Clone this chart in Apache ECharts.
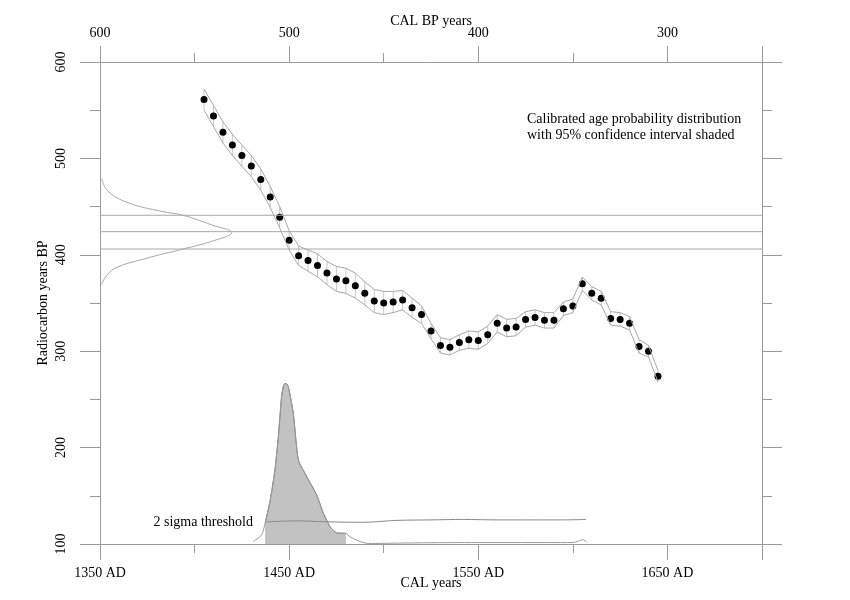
<!DOCTYPE html>
<html>
<head>
<meta charset="utf-8">
<script src="https://cdn.jsdelivr.net/npm/echarts@6/dist/echarts.min.js"></script>
<style>
  html, body { margin: 0; padding: 0; background: #fff; }
  #main { width: 850px; height: 600px; }
</style>
</head>
<body>
<div id="main"></div>
<script>
// calibration curve (every 5 years)
var calYears = [1405, 1410, 1415, 1420, 1425, 1430, 1435, 1440, 1445, 1450,
    1455, 1460, 1465, 1470, 1475, 1480, 1485, 1490, 1495, 1500,
    1505, 1510, 1515, 1520, 1525, 1530, 1535, 1540, 1545, 1550,
    1555, 1560, 1565, 1570, 1575, 1580, 1585, 1590, 1595, 1600,
    1605, 1610, 1615, 1620, 1625, 1630, 1635, 1640, 1645];
var c14Ages = [561, 544, 527, 514, 503, 492, 478, 460, 439, 415,
    399, 394, 389, 381, 375, 373, 368, 360, 352, 350,
    351, 353, 345, 338, 321, 306, 304, 309, 312, 311,
    317, 329, 324, 325, 333, 335, 332, 332, 344, 347,
    370, 360, 355, 334, 333, 329, 305, 300, 274];
var c14Errors = [11, 11, 11, 11, 11, 11, 11, 11, 11, 10,
    10, 11, 12, 12, 13, 13, 13, 12, 12, 12,
    11, 10, 10, 9, 8, 8, 8, 8, 9, 9,
    9, 9, 9, 9, 8, 8, 8, 8, 7, 7,
    7, 7, 7, 7, 7, 7, 7, 6, 6];

// measured radiocarbon age: +1 sigma, mean, -1 sigma
var measuredAges = [441, 424, 406];
// its normal curve drawn against the left axis
var gaussYears = [1350.9, 1354.2, 1364.8, 1382.6, 1393.9, 1409.1, 1419.6, 1409.1, 1393.9, 1373.8, 1357.9, 1352.6, 1350.9];
var gaussAges = [479, 466, 454, 445, 441, 431, 423, 414, 406, 396, 386, 376, 369];

// calibrated probability (relative units)
var probYears = [1431, 1435.5, 1437.3, 1440, 1442.5, 1444.3, 1446, 1447, 1447.8, 1448.8, 1449.6, 1452.2, 1454.9,
    1459.3, 1464.5, 1468.1, 1471.6, 1475.1, 1480, 1482.2, 1487.5, 1492, 1510, 1540, 1570, 1600, 1603, 1605.4, 1607.3];
var probValues = [0.5, 1.9, 4.3, 9.1, 15.4, 22.3, 30.6, 32.8, 33.3, 33.2, 32.6, 27.1, 17.4,
    14.0, 10.2, 6.4, 3.6, 2.3, 2.2, 1.5, 0.5, 0.1, 0.2, 0.3, 0.3, 0.3, 0.6, 0.9, 0.4];
var shadedRange = [1437.3, 1480];

var thresholdYears = [1438, 1454, 1470, 1489, 1507, 1525, 1542, 1560, 1577, 1595, 1607];
var thresholdValues = [4.6, 4.8, 4.6, 4.5, 4.9, 5.0, 5.1, 5.0, 5.0, 5.0, 5.1];

var adTicks = [1350, 1450, 1550, 1650];
var adTickLabels = ['1350 AD', '1450 AD', '1550 AD', '1650 AD'];
var bpTickLabels = ['600', '500', '400', '300'];

var FONT = 'Liberation Serif';
var AXIS_COLOR = '#9a9a9a';

function pairs(xs, ys) {
    var out = [];
    for (var i = 0; i < xs.length; i++) out.push([xs[i], ys[i]]);
    return out;
}

function axisX(pos, labels, name, gap) {
    return {
        type: 'value', position: pos, min: 1350, max: 1700, interval: 100,
        name: name, nameLocation: 'middle', nameGap: gap, nameMoveOverlap: false,
        nameTextStyle: {fontFamily: FONT, fontSize: 14, color: '#000'},
        axisLine: {onZero: false, lineStyle: {color: AXIS_COLOR}},
        axisTick: {length: 16, lineStyle: {color: AXIS_COLOR}},
        minorTick: {show: true, splitNumber: 2, length: 9, lineStyle: {color: AXIS_COLOR}},
        splitLine: {show: false},
        axisLabel: {
            margin: 22, fontFamily: FONT, fontSize: 14, color: '#000',
            formatter: function (v) {
                var k = adTicks.indexOf(v);
                return k < 0 ? '' : labels[k];
            }
        }
    };
}

function axisY(pos, showLabels) {
    return {
        type: 'value', position: pos, min: 100, max: 600, interval: 100,
        name: showLabels ? 'Radiocarbon years BP' : '',
        nameLocation: 'middle', nameGap: 50, nameRotate: 90, nameMoveOverlap: false,
        nameTextStyle: {fontFamily: FONT, fontSize: 14, color: '#000'},
        axisLine: {onZero: false, lineStyle: {color: AXIS_COLOR}},
        axisTick: {length: 20, lineStyle: {color: AXIS_COLOR}},
        minorTick: {show: true, splitNumber: 2, length: 10, lineStyle: {color: AXIS_COLOR}},
        splitLine: {show: false},
        axisLabel: {show: showLabels, rotate: 90, margin: 32, fontFamily: FONT, fontSize: 14, color: '#000'}
    };
}

var chart = echarts.init(document.getElementById('main'));

var series = [];

// horizontal lines for the measured age
for (var i = 0; i < measuredAges.length; i++) {
    series.push({
        type: 'line', xAxisIndex: 0, yAxisIndex: 0, symbol: 'none',
        lineStyle: {color: '#a8a8a8', width: 1},
        data: [[1350, measuredAges[i]], [1700, measuredAges[i]]]
    });
}

series.push({
    type: 'line', symbol: 'none', smooth: 0.4,
    lineStyle: {color: '#a8a8a8', width: 1},
    data: pairs(gaussYears, gaussAges)
});

// calibration curve envelope
var upper = [], lower = [], band = [];
for (var j = 0; j < calYears.length; j++) {
    upper.push([calYears[j], c14Ages[j] + c14Errors[j]]);
    lower.push([calYears[j], c14Ages[j] - c14Errors[j]]);
    band.push([calYears[j], c14Ages[j], c14Errors[j]]);
}
series.push({type: 'line', symbol: 'none', lineStyle: {color: '#a8a8a8', width: 1}, data: upper});
series.push({type: 'line', symbol: 'none', lineStyle: {color: '#a8a8a8', width: 1}, data: lower});
series.push({
    type: 'custom',
    encode: {x: 0, y: 1},
    renderItem: function (params, api) {
        var a = api.coord([api.value(0), api.value(1) + api.value(2)]);
        var b = api.coord([api.value(0), api.value(1) - api.value(2)]);
        return {
            type: 'line',
            shape: {x1: a[0], y1: a[1], x2: b[0], y2: b[1]},
            style: {stroke: '#b8b8b8', lineWidth: 0.8}
        };
    },
    data: band
});
series.push({
    type: 'scatter', symbolSize: 7, itemStyle: {color: '#000', opacity: 1},
    data: pairs(calYears, c14Ages)
});

// probability distribution along the bottom
var shaded = [];
for (var k = 0; k < probYears.length; k++) {
    if (probYears[k] >= shadedRange[0] && probYears[k] <= shadedRange[1]) {
        shaded.push([probYears[k], probValues[k]]);
    }
}
series.push({
    type: 'line', yAxisIndex: 2, symbol: 'none', smooth: 0.2,
    lineStyle: {color: '#7a7a7a', width: 1},
    areaStyle: {color: '#c2c2c2', opacity: 1},
    data: shaded
});
series.push({
    type: 'line', yAxisIndex: 2, symbol: 'none', smooth: 0.2,
    lineStyle: {color: '#9a9a9a', width: 1},
    data: pairs(probYears, probValues)
});
series.push({
    type: 'line', yAxisIndex: 2, symbol: 'none', smooth: 0.3,
    lineStyle: {color: '#8a8a8a', width: 1},
    data: pairs(thresholdYears, thresholdValues)
});

var option = {
    animation: false,
    backgroundColor: '#fff',
    grid: {left: 100, right: 88, top: 62, bottom: 56, outerBoundsMode: 'none'},
    xAxis: [
        axisX('bottom', adTickLabels, 'CAL years', 32),
        axisX('top', bpTickLabels, 'CAL BP years', 34)
    ],
    yAxis: [
        axisY('left', true),
        axisY('right', false),
        {type: 'value', min: 0, max: 100, show: false}
    ],
    graphic: [
        {
            type: 'text', left: 527, top: 111,
            style: {
                text: 'Calibrated age probability distribution\nwith 95% confidence interval shaded',
                font: '14px "Liberation Serif"', fill: '#000', lineHeight: 16
            }
        },
        {
            type: 'text', right: 850 - 253, top: 515,
            style: {text: '2 sigma threshold', font: '14px "Liberation Serif"', fill: '#000'}
        }
    ],
    series: series
};

chart.setOption(option);
</script>
</body>
</html>
